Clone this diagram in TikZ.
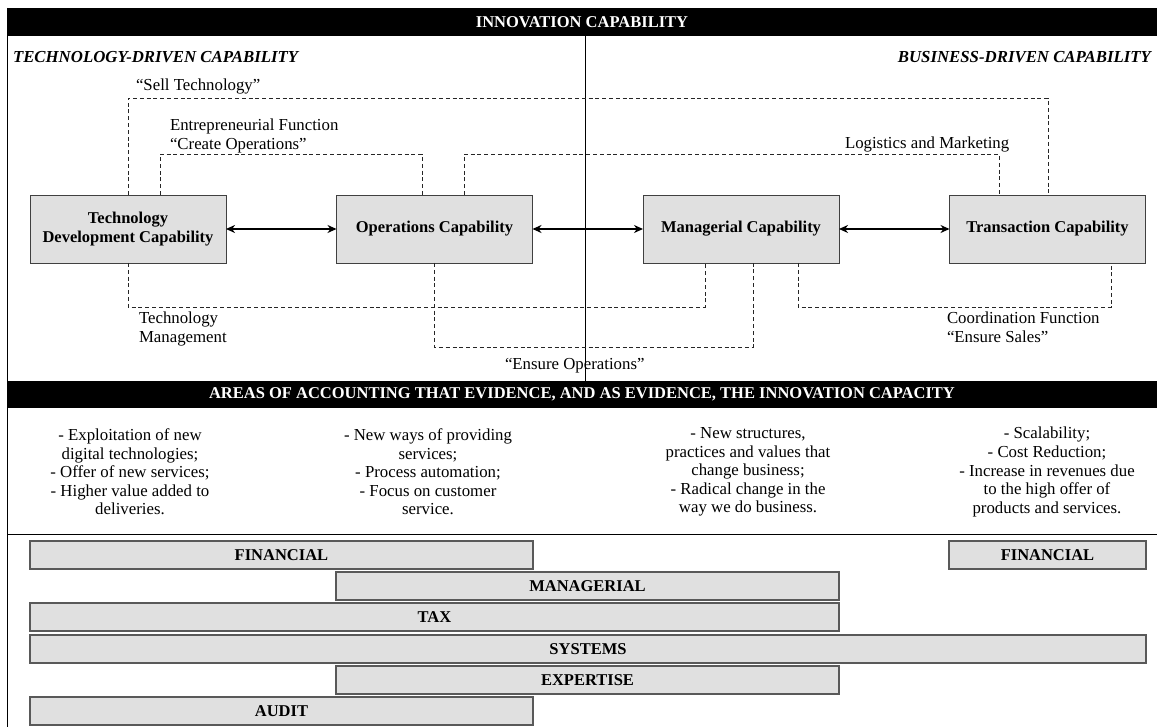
\documentclass[tikz,border=0pt]{standalone}
\usepackage{fontspec}
\setmainfont{Liberation Serif}
\usetikzlibrary{arrows.meta}
\begin{document}
\begin{tikzpicture}[x=1pt,y=-1pt,
  every node/.style={inner sep=0pt, outer sep=0pt},
  txt/.style={font=\fontsize{16.8}{18.6}\selectfont},
  head/.style={font=\fontsize{16.8}{18}\selectfont\bfseries\itshape},
  bartitle/.style={fill=black, text=white, font=\fontsize{16.5}{18}\selectfont\bfseries, minimum width=1150pt},
  capbox/.style={draw=black!75, line width=0.9pt, fill=black!12, minimum width=196pt, minimum height=68pt, align=center, font=\fontsize{16.5}{19}\selectfont\bfseries},
  areabar/.style={draw=black!65, line width=1.1pt, fill=black!12, minimum height=28pt, font=\fontsize{16.5}{18}\selectfont\bfseries},
  dl/.style={draw=black!85, line width=0.8pt, dash pattern=on 4pt off 2.8pt},
  biarrow/.style={line width=2pt, {Stealth[length=9pt,width=8pt]}-{Stealth[length=9pt,width=8pt]}},
  col/.style={txt, align=center}
]
\useasboundingbox (0,0) rectangle (1157,727);

% title bars
\node[bartitle, minimum height=28pt] (h1) at (582,22) {INNOVATION CAPABILITY};
\node[bartitle, minimum height=27pt] (h2) at (582,394.5) {AREAS OF ACCOUNTING THAT EVIDENCE, AND AS EVIDENCE, THE INNOVATION CAPACITY};

% frame lines
\coordinate (mid) at (585,0);
\coordinate (lt) at (7,8);
\coordinate (lb) at (7,727);
\coordinate (hl) at (7,534);
\coordinate (hr) at (1157,534);
\draw[line width=1pt] (lt) -- (lb);
\draw[line width=1pt] (hl) -- (hr);
\draw[line width=0.9pt] (h1.south -| mid) -- (h2.north -| mid);

% headings
\node[head, anchor=base west] (tdc) at (13,63) {TECHNOLOGY-DRIVEN CAPABILITY};
\node[head, anchor=base east] (bdc) at (1151,63) {BUSINESS-DRIVEN CAPABILITY};

% capability boxes
\node[capbox] (tech) at (128,229) {Technology\\Development Capability};
\node[capbox] (ops) at (434.5,229) {Operations Capability};
\node[capbox] (man) at (741,229) {Managerial Capability};
\node[capbox] (trans) at (1047.5,229) {Transaction Capability};

\draw[biarrow] (tech.east) -- (ops.west);
\draw[biarrow] (ops.east) -- (man.west);
\draw[biarrow] (man.east) -- (trans.west);

% dashed connectors above
\coordinate (s1) at (1048,98);
\draw[dl] (tech.north) |- (s1) -- (s1 |- trans.north);
\coordinate (e1) at (160,154);
\coordinate (e2) at (422,154);
\draw[dl] (e1 |- tech.north) -- (e1) -- (e2) -- (e2 |- ops.north);
\coordinate (l1) at (464,154);
\coordinate (l2) at (999,154);
\draw[dl] (l1 |- ops.north) -- (l1) -- (l2) -- (l2 |- trans.north);

% dashed connectors below
\coordinate (t1) at (705,307);
\draw[dl] (tech.south) |- (t1) -- (t1 |- man.south);
\coordinate (o1) at (753,347);
\draw[dl] (ops.south) |- (o1) -- (o1 |- man.south);
\coordinate (c1) at (798,307);
\coordinate (c2) at (1111,307);
\draw[dl] (c1 |- man.south) -- (c1) -- (c2) -- (c2 |- trans.south);

% connector labels
\node[txt, anchor=base west] (lsell) at (136,91) {“Sell Technology”};
\node[txt, anchor=base west] (lent1) at (170,131) {Entrepreneurial Function};
\node[txt, anchor=base west] (lent2) at (170,150) {“Create Operations”};
\node[txt, anchor=base west] (llog) at (845,149) {Logistics and Marketing};
\node[txt, anchor=base west] (ltm1) at (139,324) {Technology};
\node[txt, anchor=base west] (ltm2) at (139,343) {Management};
\node[txt, anchor=base west] (lens) at (505,370) {“Ensure Operations”};
\node[txt, anchor=base west] (lco1) at (947,324) {Coordination Function};
\node[txt, anchor=base west] (lco2) at (947,343) {“Ensure Sales”};

% columns of text
\node[col] (k1) at (130,472) {- Exploitation of new\\digital technologies;\\- Offer of new services;\\- Higher value added to\\deliveries.};
\node[col] (k2) at (428,472) {- New ways of providing\\services;\\- Process automation;\\- Focus on customer\\service.};
\node[col] (k3) at (748,472) {- New structures,\\practices and values that\\change business;\\- Radical change in the\\way we do business.};
\node[col] (k4) at (1047,472) {- Scalability;\\- Cost Reduction;\\- Increase in revenues due\\to the high offer of\\products and services.};

% accounting area bars
\node[areabar, minimum width=503pt] (fin) at (281.5,555) {FINANCIAL};
\node[areabar, minimum width=197pt] (fin2) at (1047.5,555) {FINANCIAL};
\node[areabar, minimum width=503pt] (mgr) at (587.5,586) {MANAGERIAL};
\node[areabar, minimum width=809pt] (tax) at (434.5,617) {TAX};
\node[areabar, minimum width=1116pt] (sys) at (588,649) {SYSTEMS};
\node[areabar, minimum width=503pt] (exp) at (587.5,680) {EXPERTISE};
\node[areabar, minimum width=503pt] (aud) at (281.5,711) {AUDIT};
\end{tikzpicture}
\end{document}
